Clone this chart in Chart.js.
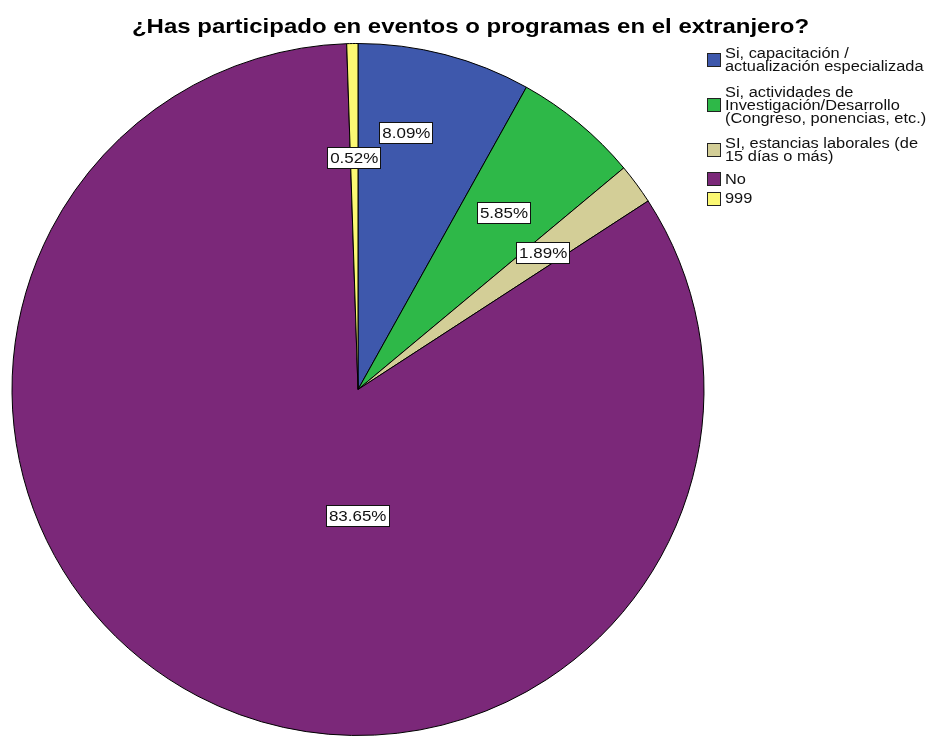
<!DOCTYPE html>
<html>
<head>
<meta charset="utf-8">
<script src="https://cdn.jsdelivr.net/npm/chart.js@4.4.1/dist/chart.umd.min.js"></script>
<style>
  html, body { margin: 0; padding: 0; background: #fff; overflow: hidden; }
  #wrap { width: 931px; height: 736px; position: relative; }
</style>
</head>
<body>
<div id="wrap"><canvas id="c" width="931" height="736"></canvas></div>
<script>
const titleText = '¿Has participado en eventos o programas en el extranjero?';
const categories = [
  ['Si, capacitación /', 'actualización especializada'],
  ['Si, actividades de', 'Investigación/Desarrollo', '(Congreso, ponencias, etc.)'],
  ['SI, estancias laborales (de', '15 días o más)'],
  ['No'],
  ['999']
];
const values = [8.09, 5.85, 1.89, 83.65, 0.52];
const colors = ['#3E58AC', '#2EB848', '#D3CE97', '#7B2879', '#FBF873'];

const FONT = '"Liberation Sans", Arial, sans-serif';
const SX = 1.17;

const overlay = {
  id: 'overlay',
  afterDatasetsDraw(chart, args, opts) {
    const ctx = chart.ctx;
    const meta = chart.getDatasetMeta(0);
    ctx.save();
    ctx.font = '14.5px ' + FONT;
    meta.data.forEach((arc, i) => {
      const p = arc.getProps(['x', 'y', 'startAngle', 'endAngle', 'outerRadius'], true);
      const pl = opts.placement[i];
      const a = p.startAngle + (p.endAngle - p.startAngle) * pl.t;
      const r = p.outerRadius * pl.r;
      const cx = p.x + r * Math.cos(a);
      const cy = p.y + r * Math.sin(a);
      const txt = chart.data.datasets[0].data[i].toFixed(2) + '%';
      const w = Math.round(ctx.measureText(txt).width * SX + 6);
      const h = 22;
      const lx = Math.round(cx - w / 2), ty = Math.round(cy - h / 2);
      ctx.fillStyle = '#fff';
      ctx.fillRect(lx, ty, w, h);
      ctx.strokeStyle = '#111';
      ctx.lineWidth = 1;
      ctx.strokeRect(lx + 0.5, ty + 0.5, w - 1, h - 1);
      ctx.save();
      ctx.translate(cx, cy);
      ctx.scale(SX, 1);
      ctx.fillStyle = '#111';
      ctx.textAlign = 'center';
      ctx.textBaseline = 'middle';
      ctx.fillText(txt, 0, 1);
      ctx.restore();
    });
    ctx.restore();
  },
  afterDraw(chart, args, opts) {
    const ctx = chart.ctx;
    // title
    ctx.save();
    ctx.font = 'bold 20.5px ' + FONT;
    ctx.fillStyle = '#000';
    ctx.textAlign = 'center';
    ctx.textBaseline = 'alphabetic';
    ctx.translate(470.5, 33);
    ctx.scale(SX, 1);
    ctx.fillText(titleText, 0, 0);
    ctx.restore();
    // legend
    ctx.save();
    ctx.font = '14px ' + FONT;
    const L = 13, g = 6.5, extra = 6;
    const hts = chart.data.labels.map(l => l.length * L + (l.length > 1 ? extra : 0));
    let cy = 60;
    chart.data.labels.forEach((lines, i) => {
      if (i > 0) cy += (hts[i - 1] + hts[i]) / 2 + g;
      const bs = 14;
      const bx = 707, by = Math.round(cy - bs / 2);
      ctx.fillStyle = chart.data.datasets[0].backgroundColor[i];
      ctx.fillRect(bx, by, bs, bs);
      ctx.strokeStyle = '#222';
      ctx.lineWidth = 1;
      ctx.strokeRect(bx + 0.5, by + 0.5, bs - 1, bs - 1);
      ctx.fillStyle = '#111';
      ctx.textBaseline = 'middle';
      const top = cy - (lines.length - 1) * L / 2;
      lines.forEach((ln, k) => {
        ctx.save();
        ctx.translate(725, top + k * L + 1);
        ctx.scale(SX, 1);
        ctx.fillText(ln, 0, 0);
        ctx.restore();
      });
    });
    ctx.restore();
  }
};

new Chart(document.getElementById('c'), {
  type: 'pie',
  data: {
    labels: categories,
    datasets: [{
      data: values,
      backgroundColor: colors,
      borderColor: '#000',
      borderWidth: 1
    }]
  },
  options: {
    responsive: false,
    animation: false,
    events: [],
    layout: { padding: { left: 11, right: 226, top: 43, bottom: -1 } },
    plugins: {
      legend: { display: false },
      title: { display: false },
      tooltip: { enabled: false },
      overlay: {
        placement: [
          { t: 0.367, r: 0.754 },
          { t: 0.5, r: 0.661 },
          { t: 0.5, r: 0.665 },
          { t: 0.409, r: 0.366 },
          { t: 0.5, r: 0.669 }
        ]
      }
    }
  },
  plugins: [overlay]
});
</script>
</body>
</html>
